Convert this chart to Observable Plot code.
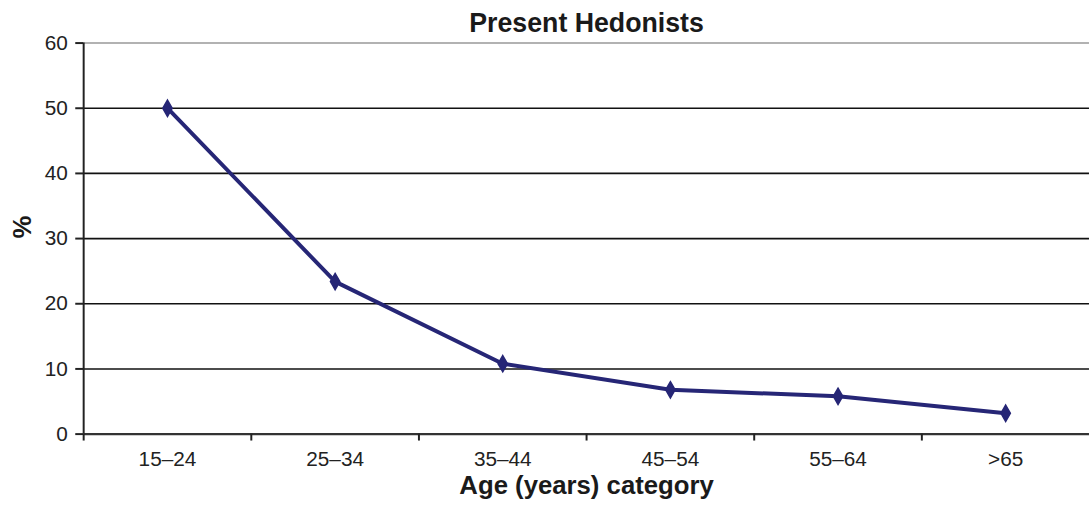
<!DOCTYPE html>
<html>
<head>
<meta charset="utf-8">
<script src="https://cdn.jsdelivr.net/npm/d3@7"></script>
<script src="https://cdn.jsdelivr.net/npm/@observablehq/plot@0.6"></script>
<style>
  html, body { margin: 0; padding: 0; background: #fff; overflow: hidden; }
  svg { display: block; }
</style>
</head>
<body>
<div id="chart"></div>
<script>
const categories = ["15–24", "25–34", "35–44", "45–54", "55–64", ">65"];
const values = [50, 23.4, 10.8, 6.8, 5.8, 3.2];
const yTicks = [0, 10, 20, 30, 40, 50, 60];
const gridValues = [10, 20, 30, 40, 50];
const title = "Present Hedonists";
const xTitle = "Age (years) category";
const yTitle = "%";

const data = categories.map((c, i) => ({cat: c, pos: i + 0.5, value: values[i]}));
const boundaries = d3.range(0, categories.length);
const centers = data.map(d => d.pos);

const lineColor = "#262676";
const font = "'Liberation Sans', Arial, sans-serif";

const chart = Plot.plot({
  width: 1100,
  height: 508,
  marginLeft: 84,
  marginRight: 0,
  marginTop: 43,
  marginBottom: 70,
  style: {fontFamily: font, fontSize: "21px", color: "#222", background: "#fff"},
  x: {type: "linear", domain: [0, categories.length], axis: null},
  y: {domain: [0, 60], axis: null},
  marks: [
    Plot.ruleY(gridValues, {stroke: "#111", strokeWidth: 1.6}),
    Plot.ruleY([60], {stroke: "#999", strokeWidth: 1.6}),
    Plot.ruleY([0], {stroke: "#333", strokeWidth: 2.2}),
    Plot.ruleX([0], {y1: 0, y2: 60, stroke: "#222", strokeWidth: 2}),
    Plot.axisY({ticks: yTicks, label: null, tickSize: 8, tickPadding: 8, fontSize: 21, stroke: "#222", strokeWidth: 2, fill: "#222", tickFormat: d => d}),
    Plot.axisX({ticks: boundaries, label: null, tickSize: 7, tickFormat: () => "", stroke: "#222", strokeWidth: 2}),
    Plot.axisX({ticks: centers, label: null, tickSize: 0, tickPadding: 17, fontSize: 21, fill: "#222", tickFormat: (d) => categories[Math.round(d - 0.5)]}),
    Plot.line(data, {x: "pos", y: "value", stroke: lineColor, strokeWidth: 4}),
    Plot.dot(data, {x: "pos", y: "value", symbol: "diamond", r: 5, fill: lineColor, stroke: lineColor, strokeWidth: 1.5}),
    Plot.text([title], {frameAnchor: "top", dy: -20, lineAnchor: "middle", fontWeight: "bold", fontSize: 27, fill: "#1a1a1a"}),
    Plot.text([xTitle], {frameAnchor: "bottom", dy: 52, lineAnchor: "middle", fontWeight: "bold", fontSize: 26, fill: "#1a1a1a"}),
    Plot.text([yTitle], {frameAnchor: "left", dx: -62, rotate: -90, lineAnchor: "middle", fontWeight: "bold", fontSize: 26, fill: "#1a1a1a"})
  ]
});
document.getElementById("chart").appendChild(chart);
</script>
</body>
</html>
